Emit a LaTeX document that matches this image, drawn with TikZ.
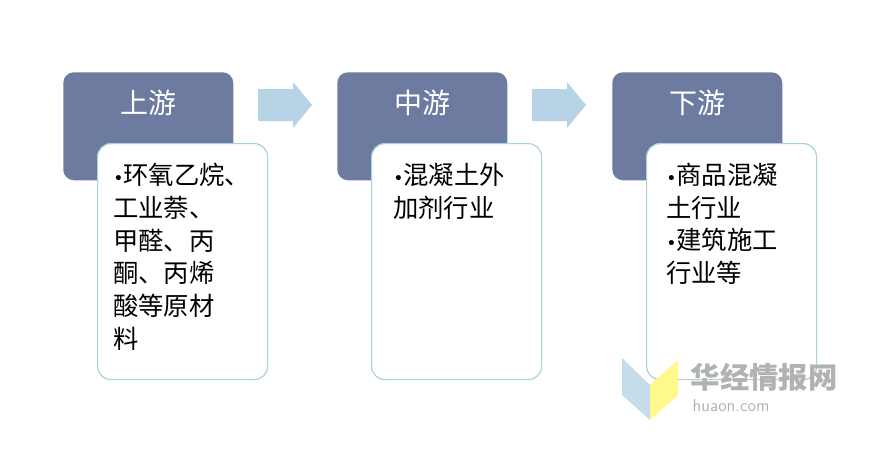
\documentclass[tikz,border=0pt]{standalone}
\usepackage{fontspec}
\newfontfamily\cjk{Noto Sans CJK SC}
\newfontfamily\bul{DejaVu Sans}
\newcommand{\bt}{{\bul\fontsize{13}{24}\selectfont•}}
\definecolor{hdr}{HTML}{6E7BA0}
\definecolor{bord}{HTML}{A9D2DA}
\definecolor{arr}{HTML}{B7D3E6}
\begin{document}
\begin{tikzpicture}[x=0.75pt,y=-0.75pt,
  head/.style={fill=hdr,rounded corners=8pt,minimum width=127.5pt,minimum height=81pt,anchor=north west,inner sep=0pt},
  htext/.style={text=white,font=\cjk\fontsize{21}{24}\selectfont,anchor=center},
  body/.style={draw=bord,line width=0.9pt,fill=white,rounded corners=10pt,minimum width=127.5pt,minimum height=177pt,anchor=north west,inner sep=0pt},
  btext/.style={font=\cjk\fontsize{19}{24.5}\selectfont,anchor=north west,align=left,inner sep=0pt},
  flow/.style={fill=arr}]
\useasboundingbox (0,0) rectangle (884,458);
\fill[white] (0,0) rectangle (884,458);
% headers
\node[head] (h1) at (63,72) {};
\node[head] (h2) at (337,72) {};
\node[head] (h3) at (612,72) {};
\node[htext] (t1) at (148,103) {上游};
\node[htext] (t2) at (422,103) {中游};
\node[htext] (t3) at (697,103) {下游};
% arrows
\foreach \x/\n in {258/a1,532/a2}{
  \fill[flow] (\x,89) -- ++(35,0) -- ++(0,-7) -- ++(19,23) -- ++(-19,23) -- ++(0,-7) -- ++(-35,0) -- cycle;
  \coordinate (\n) at (\x,105);
}
% bodies
\node[body] (b1) at (97,143) {};
\node[body] (b2) at (371,143) {};
\node[body] (b3) at (646,143) {};
\node[btext] (c1) at (113,163) {\bt{}环氧乙烷、\\工业萘、\\甲醛、丙\\酮、丙烯\\酸等原材\\料};
\node[btext] (c2) at (393,163) {\bt{}混凝土外\\加剂行业};
\node[btext] (c3) at (666,163) {\bt{}商品混凝\\土行业\\\bt{}建筑施工\\行业等};
% watermark
\fill[arr!80] (622,358) -- (650,385) -- (650,420) -- (622,395) -- cycle;
\fill[yellow!45] (650,385) -- (678,360) -- (678,395) -- (650,420) -- cycle;
\node[font=\cjk\fontsize{22}{24}\selectfont\bfseries,text=black!30,anchor=west] (w1) at (686,377) {华经情报网};
\node[font=\sffamily\fontsize{13}{14}\selectfont,text=black!30,anchor=west] (w2) at (688,406) {huaon.com};
\end{tikzpicture}
\end{document}
